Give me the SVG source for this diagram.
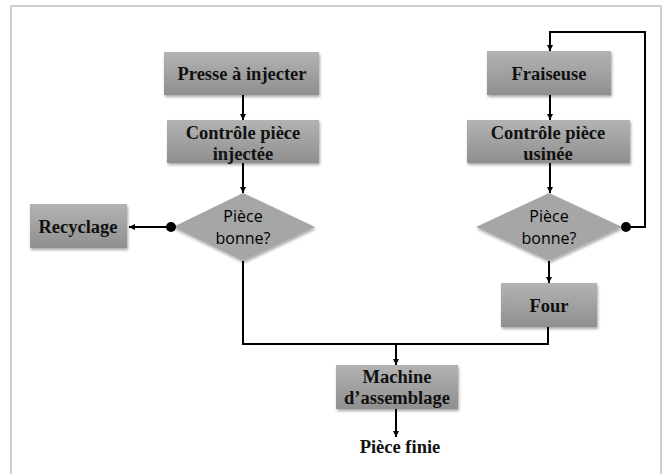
<svg xmlns="http://www.w3.org/2000/svg" width="668" height="474" viewBox="0 0 668 474">
<defs>
<linearGradient id="g" x1="0" y1="0" x2="0" y2="1">
<stop offset="0" stop-color="#b3b3b3"/>
<stop offset="1" stop-color="#8f8f8f"/>
</linearGradient>
<filter id="sh" x="-10%" y="-10%" width="125%" height="130%">
<feGaussianBlur in="SourceAlpha" stdDeviation="1.5"/>
<feOffset dx="1" dy="2" result="b"/>
<feComponentTransfer><feFuncA type="linear" slope="0.35"/></feComponentTransfer>
<feMerge><feMergeNode/><feMergeNode in="SourceGraphic"/></feMerge>
</filter>
<marker id="ah" viewBox="0 0 10 10" refX="10" refY="5" markerWidth="6" markerHeight="6" orient="auto" markerUnits="userSpaceOnUse">
<path d="M0,0 L10,5 L0,10 z" fill="#000"/>
</marker>
</defs>
<style>
.box{fill:url(#g);filter:url(#sh);}
.dia{fill:#a6a6a6;filter:url(#sh);}
.t{font-family:"Liberation Serif","Times New Roman",serif;font-weight:bold;font-size:18.5px;text-anchor:middle;fill:#111;}
.d{font-family:"Open Sans","Noto Sans","Liberation Sans",sans-serif;font-size:16px;text-anchor:middle;fill:#000;}
.c{fill:none;stroke:#000;stroke-width:2;}
</style>
<rect x="11" y="6" width="650" height="475" fill="#fff" stroke="#cfcfcf" stroke-width="2"/>
<g id="presse"><rect class="box" x="164" y="52" width="155" height="43"/><text class="t" x="242" y="80">Presse à injecter</text></g>
<g id="controle-injectee"><rect class="box" x="167" y="120" width="152" height="43"/><text class="t" x="243" y="139">Contrôle pièce</text><text class="t" x="243" y="160">injectée</text></g>
<g id="decision-gauche"><polygon class="dia" points="243,193 315,227 243,261 173,227"/><text class="d" x="243" y="222">Pièce</text><text class="d" x="243" y="244">bonne?</text></g>
<g id="recyclage"><rect class="box" x="30" y="204" width="97" height="44"/><text class="t" x="78" y="233">Recyclage</text></g>
<g id="fraiseuse"><rect class="box" x="487" y="51" width="124" height="44"/><text class="t" x="549" y="80">Fraiseuse</text></g>
<g id="controle-usinee"><rect class="box" x="467" y="120" width="163" height="43"/><text class="t" x="548" y="139">Contrôle pièce</text><text class="t" x="548" y="160">usinée</text></g>
<g id="decision-droite"><polygon class="dia" points="549,193 622,227 549,261 476,227"/><text class="d" x="549" y="222">Pièce</text><text class="d" x="549" y="244">bonne?</text></g>
<g id="four"><rect class="box" x="501" y="283" width="96" height="44"/><text class="t" x="549" y="312">Four</text></g>
<g id="machine"><rect class="box" x="336" y="365" width="122" height="44"/><text class="t" x="397" y="383">Machine</text><text class="t" x="397" y="404">d’assemblage</text></g>
<g id="piece-finie"><text class="t" x="400" y="453">Pièce finie</text></g>
<g id="connectors">
<line class="c" x1="243" y1="95" x2="243" y2="120" marker-end="url(#ah)"/>
<line class="c" x1="243" y1="163" x2="243" y2="193" marker-end="url(#ah)"/>
<line class="c" x1="171" y1="227" x2="129" y2="227" marker-end="url(#ah)"/>
<circle cx="171" cy="227" r="5" fill="#000"/>
<polyline class="c" points="243,261 243,344 548,344 548,327"/>
<line class="c" x1="396" y1="344" x2="396" y2="365" marker-end="url(#ah)"/>
<line class="c" x1="396" y1="409" x2="396" y2="437" marker-end="url(#ah)"/>
<line class="c" x1="550" y1="95" x2="550" y2="120" marker-end="url(#ah)"/>
<line class="c" x1="550" y1="163" x2="550" y2="193" marker-end="url(#ah)"/>
<line class="c" x1="549" y1="261" x2="549" y2="283" marker-end="url(#ah)"/>
<polyline class="c" points="626,227 645,227 645,32 550,32 550,51" marker-end="url(#ah)"/>
<circle cx="626" cy="227" r="5" fill="#000"/>
</g>
</svg>
